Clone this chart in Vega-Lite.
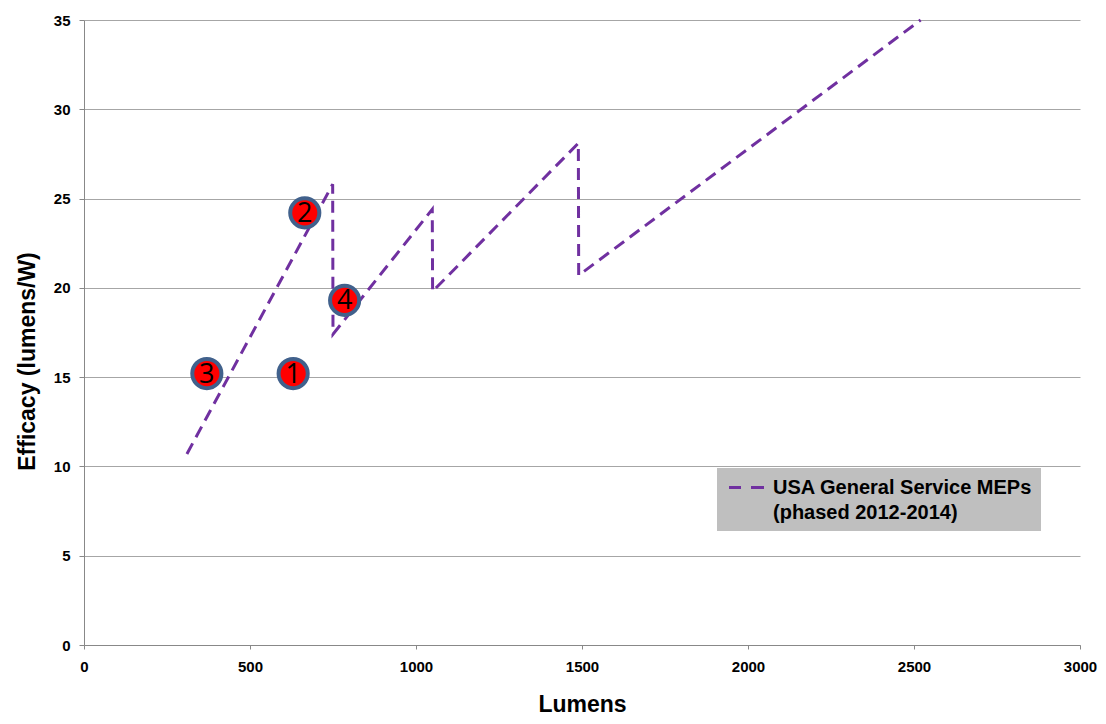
{
  "$schema": "https://vega.github.io/schema/vega-lite/v6.json",
  "width": 996,
  "height": 625,
  "autosize": {"type": "none"},
  "padding": {"left": 84, "top": 20, "right": 26, "bottom": 79},
  "background": "white",
  "config": {
    "view": {"stroke": null},
    "font": "Liberation Sans"
  },
  "datasets": {
    "mep": [
      {"lumens": 310, "efficacy": 10.7, "series": "USA General Service MEPs"},
      {"lumens": 749, "efficacy": 25.8, "series": "USA General Service MEPs"},
      {"lumens": 750, "efficacy": 17.4, "series": "USA General Service MEPs"},
      {"lumens": 1049, "efficacy": 24.4, "series": "USA General Service MEPs"},
      {"lumens": 1050, "efficacy": 19.8, "series": "USA General Service MEPs"},
      {"lumens": 1489, "efficacy": 28.1, "series": "USA General Service MEPs"},
      {"lumens": 1490, "efficacy": 20.7, "series": "USA General Service MEPs"},
      {"lumens": 2520, "efficacy": 35.0, "series": "USA General Service MEPs"}
    ],
    "lamps": [
      {"lumens": 630, "efficacy": 15.2, "label": "1"},
      {"lumens": 665, "efficacy": 24.2, "label": "2"},
      {"lumens": 370, "efficacy": 15.2, "label": "3"},
      {"lumens": 785, "efficacy": 19.3, "label": "4"}
    ]
  },
  "layer": [
    {
      "data": {"name": "mep"},
      "mark": {"type": "line", "strokeWidth": 3, "strokeDash": [12, 7]},
      "encoding": {
        "x": {
          "field": "lumens", "type": "quantitative",
          "scale": {"domain": [0, 3000], "nice": false},
          "axis": {
            "values": [0, 500, 1000, 1500, 2000, 2500, 3000], "format": "d", "grid": false,
            "labelFlush": false, "labelOverlap": false,
            "title": "Lumens", "labelPadding": 10, "titlePadding": 19, "tickSize": 4,
            "labelFont": "Liberation Sans", "labelFontWeight": "bold", "labelFontSize": 15, "labelColor": "black",
            "titleFont": "Liberation Sans", "titleFontWeight": "bold", "titleFontSize": 23, "titleColor": "black",
            "domainColor": "#888888", "tickColor": "#888888"
          }
        },
        "y": {
          "field": "efficacy", "type": "quantitative",
          "scale": {"domain": [0, 35], "nice": false},
          "axis": {
            "values": [0, 5, 10, 15, 20, 25, 30, 35], "grid": true, "gridColor": "#A6A6A6",
            "labelFlush": false, "labelOverlap": false,
            "title": "Efficacy (lumens/W)", "labelPadding": 9, "titlePadding": 14, "tickSize": 5,
            "titleY": 341,
            "labelFont": "Liberation Sans", "labelFontWeight": "bold", "labelFontSize": 15, "labelColor": "black",
            "titleFont": "Liberation Sans", "titleFontWeight": "bold", "titleFontSize": 23, "titleColor": "black",
            "domainColor": "#888888", "tickColor": "#888888"
          }
        },
        "color": {
          "field": "series", "type": "nominal",
          "scale": {"domain": ["USA General Service MEPs", "(phased 2012-2014)"], "range": ["#7030A0", "transparent"]},
          "legend": {
            "title": null,
            "orient": "none",
            "legendX": 633,
            "legendY": 448,
            "fillColor": "#BFBFBF",
            "padding": 8,
            "rowPadding": 3,
            "symbolType": "M-1.75,0H-0.55M0.45,0H1.75",
            "symbolStrokeWidth": 3,
            "symbolSize": 400,
            "symbolOffset": 10,
            "labelFont": "Liberation Sans",
            "labelFontSize": 20,
            "labelFontWeight": "bold",
            "labelColor": "black",
            "labelLimit": 400,
            "labelOffset": 15
          }
        }
      }
    },
    {
      "data": {"name": "lamps"},
      "mark": {"type": "point", "shape": "circle", "filled": true, "fill": "#FF0000", "stroke": "#41618C", "strokeWidth": 4, "size": 850, "opacity": 1},
      "encoding": {
        "x": {"field": "lumens", "type": "quantitative"},
        "y": {"field": "efficacy", "type": "quantitative"}
      }
    },
    {
      "data": {"name": "lamps"},
      "mark": {"type": "text", "font": "Open Sans", "fontSize": 27, "color": "black", "baseline": "middle", "align": "center", "dy": 1},
      "encoding": {
        "x": {"field": "lumens", "type": "quantitative"},
        "y": {"field": "efficacy", "type": "quantitative"},
        "text": {"field": "label"}
      }
    }
  ]
}
